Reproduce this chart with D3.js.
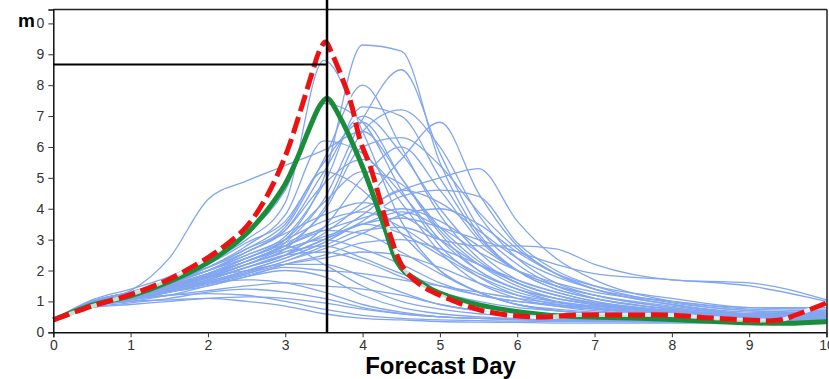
<!DOCTYPE html>
<html>
<head>
<meta charset="utf-8">
<script src="https://cdn.jsdelivr.net/npm/d3@7"></script>
<style>
  body { margin: 0; background: #fff; }
  svg { display: block; font-family: "Liberation Sans", Arial, sans-serif; }
</style>
</head>
<body>
<div id="chart"></div>
<script>
// forecast day grid used by the ensemble members
const days = [0, 0.5, 1, 1.5, 2, 2.5, 3, 3.5, 4, 4.5, 5, 5.5, 6, 6.5, 7, 8, 9, 10];

// ensemble members (one array per member, values at `days`)
const members = [
  [0.4, 0.85, 1.0, 1.05, 1.1, 1.0, 0.85, 0.6, 0.45, 0.4, 0.35, 0.33, 0.32, 0.3, 0.3, 0.3, 0.3, 0.35],
  [0.4, 0.9, 1.1, 1.2, 1.25, 1.2, 1.0, 0.75, 0.55, 0.45, 0.4, 0.38, 0.36, 0.35, 0.34, 0.33, 0.32, 0.4],
  [0.4, 0.8, 0.95, 1.1, 1.3, 1.4, 1.3, 1.1, 0.8, 0.6, 0.5, 0.45, 0.42, 0.4, 0.38, 0.36, 0.35, 0.45],
  [0.4, 0.95, 1.2, 1.4, 1.6, 1.7, 1.6, 1.3, 0.9, 0.65, 0.5, 0.45, 0.42, 0.4, 0.4, 0.38, 0.36, 0.5],
  [0.4, 0.9, 1.1, 1.3, 1.5, 1.8, 2.0, 1.8, 1.2, 0.8, 0.6, 0.5, 0.45, 0.42, 0.4, 0.38, 0.35, 0.45],
  [0.4, 0.85, 1.05, 1.2, 1.35, 1.5, 1.6, 1.5, 1.4, 1.2, 0.9, 0.7, 0.6, 0.55, 0.5, 0.45, 0.4, 0.55],
  [0.4, 1.0, 1.25, 1.5, 1.8, 2.0, 2.2, 2.2, 1.8, 1.3, 0.9, 0.7, 0.6, 0.55, 0.5, 0.45, 0.42, 0.6],
  [0.4, 0.8, 0.9, 1.0, 1.1, 1.15, 1.1, 0.95, 0.75, 0.6, 0.5, 0.45, 0.4, 0.38, 0.36, 0.34, 0.33, 0.4],
  [0.4, 0.9, 1.15, 1.4, 1.7, 2.1, 2.5, 2.6, 2.3, 1.8, 1.3, 1.0, 0.8, 0.7, 0.6, 0.5, 0.45, 0.6],
  [0.4, 0.95, 1.2, 1.5, 1.9, 2.4, 2.9, 3.3, 3.2, 2.6, 1.9, 1.3, 0.9, 0.75, 0.65, 0.55, 0.5, 0.65],
  [0.4, 0.9, 1.1, 1.35, 1.65, 2.0, 2.4, 2.9, 3.5, 3.2, 2.5, 1.8, 1.3, 1.0, 0.8, 0.6, 0.5, 0.6],
  [0.4, 1.0, 1.25, 1.6, 2.0, 2.5, 3.0, 3.6, 3.9, 3.4, 2.6, 1.9, 1.4, 1.1, 0.9, 0.65, 0.5, 0.55],
  [0.4, 0.85, 1.05, 1.3, 1.6, 1.9, 2.2, 2.4, 2.6, 2.5, 2.1, 1.6, 1.2, 1.0, 0.85, 0.65, 0.5, 0.55],
  [0.4, 0.95, 1.15, 1.45, 1.8, 2.2, 2.7, 3.0, 2.7, 2.2, 1.6, 1.2, 1.0, 0.85, 0.75, 0.6, 0.5, 0.7],
  [0.4, 1.0, 1.3, 1.7, 2.1, 2.6, 3.2, 3.8, 4.2, 3.8, 3.0, 2.2, 1.6, 1.2, 0.95, 0.7, 0.55, 0.6],
  [0.4, 0.9, 1.1, 1.3, 1.55, 1.85, 2.1, 2.0, 1.9, 1.7, 1.5, 1.3, 1.1, 0.95, 0.85, 0.7, 0.6, 0.7],
  [0.4, 0.95, 1.2, 1.5, 1.85, 2.3, 2.8, 3.3, 3.7, 4.0, 3.6, 2.8, 2.0, 1.5, 1.2, 0.8, 0.6, 0.6],
  [0.4, 0.85, 1.0, 1.2, 1.5, 1.8, 2.2, 2.5, 2.9, 3.0, 2.7, 2.2, 1.7, 1.3, 1.0, 0.7, 0.55, 0.5],
  [0.4, 1.0, 1.3, 1.65, 2.0, 2.4, 2.8, 2.2, 1.5, 1.0, 0.75, 0.6, 0.55, 0.5, 0.45, 0.4, 0.38, 0.45],
  [0.4, 0.9, 1.15, 1.45, 1.8, 2.2, 2.6, 2.8, 2.4, 1.9, 1.5, 1.2, 1.0, 0.9, 0.8, 0.65, 0.55, 0.6],
  [0.4, 1.0, 1.35, 2.4, 4.3, 4.9, 5.4, 5.9, 6.5, 5.0, 3.3, 2.2, 1.5, 1.1, 0.9, 0.6, 0.45, 0.4],
  [0.4, 1.0, 1.3, 1.7, 2.3, 3.0, 4.2, 8.8, 6.5, 3.6, 2.0, 1.3, 0.9, 0.7, 0.6, 0.45, 0.4, 0.45],
  [0.4, 0.95, 1.25, 1.6, 2.1, 2.8, 3.8, 6.2, 5.8, 4.2, 2.6, 1.6, 1.1, 0.85, 0.7, 0.55, 0.45, 0.5],
  [0.4, 1.0, 1.3, 1.7, 2.2, 2.9, 3.6, 5.5, 6.8, 5.0, 3.2, 2.0, 1.4, 1.0, 0.8, 0.6, 0.5, 0.5],
  [0.4, 0.9, 1.2, 1.55, 2.0, 2.6, 3.3, 4.8, 5.6, 4.5, 3.0, 2.0, 1.4, 1.1, 0.9, 0.65, 0.5, 0.55],
  [0.4, 1.05, 1.4, 1.8, 2.4, 3.2, 4.6, 7.4, 6.8, 4.6, 2.8, 1.8, 1.2, 0.9, 0.75, 0.55, 0.45, 0.5],
  [0.4, 0.95, 1.2, 1.5, 1.9, 2.4, 3.0, 4.2, 5.2, 4.8, 3.4, 2.3, 1.6, 1.2, 0.95, 0.7, 0.55, 0.6],
  [0.4, 1.0, 1.25, 1.6, 2.1, 2.7, 3.5, 5.2, 4.6, 3.2, 2.0, 1.3, 0.9, 0.7, 0.6, 0.5, 0.4, 0.45],
  [0.4, 0.95, 1.2, 1.5, 1.9, 2.4, 3.0, 5.0, 9.3, 9.1, 5.5, 3.2, 2.0, 1.4, 1.1, 0.75, 0.55, 0.6],
  [0.4, 0.9, 1.15, 1.45, 1.8, 2.3, 2.9, 4.3, 6.9, 8.5, 5.8, 3.4, 2.2, 1.5, 1.1, 0.75, 0.55, 0.55],
  [0.4, 1.0, 1.3, 1.65, 2.1, 2.7, 3.4, 5.6, 8.0, 6.0, 3.8, 2.4, 1.6, 1.2, 0.9, 0.65, 0.5, 0.5],
  [0.4, 0.95, 1.25, 1.6, 2.0, 2.5, 3.1, 4.8, 7.3, 7.0, 5.0, 3.1, 2.0, 1.4, 1.1, 0.75, 0.55, 0.6],
  [0.4, 0.9, 1.15, 1.4, 1.75, 2.2, 2.7, 4.0, 6.5, 7.2, 6.0, 3.8, 2.4, 1.6, 1.2, 0.8, 0.6, 0.6],
  [0.4, 1.0, 1.3, 1.6, 2.0, 2.6, 3.3, 5.2, 7.0, 5.8, 4.0, 2.6, 1.7, 1.3, 1.0, 0.7, 0.5, 0.5],
  [0.4, 0.95, 1.2, 1.5, 1.85, 2.3, 2.8, 3.9, 6.0, 6.3, 5.4, 3.9, 2.7, 1.9, 1.4, 0.9, 0.6, 0.55],
  [0.4, 0.9, 1.1, 1.35, 1.7, 2.1, 2.5, 3.4, 5.0, 6.0, 4.6, 3.0, 2.0, 1.5, 1.2, 0.85, 0.6, 0.6],
  [0.4, 0.9, 1.15, 1.45, 1.8, 2.2, 2.6, 3.2, 4.2, 5.6, 6.8, 4.5, 2.8, 1.9, 1.4, 0.9, 0.65, 0.6],
  [0.4, 0.95, 1.2, 1.5, 1.85, 2.3, 2.8, 3.4, 4.0, 4.6, 5.0, 5.3, 3.6, 2.4, 1.7, 1.0, 0.7, 0.65],
  [0.4, 0.9, 1.1, 1.35, 1.65, 2.0, 2.4, 2.9, 3.6, 4.4, 4.6, 4.4, 2.9, 2.0, 1.5, 0.95, 0.7, 0.6],
  [0.4, 0.85, 1.05, 1.3, 1.6, 1.95, 2.3, 2.8, 3.3, 3.4, 3.0, 2.8, 2.8, 2.7, 2.2, 1.7, 1.6, 1.05],
  [0.4, 0.95, 1.2, 1.45, 1.75, 2.1, 2.5, 3.0, 3.5, 3.7, 3.4, 3.0, 2.6, 2.2, 1.9, 1.7, 1.5, 1.0],
  [0.4, 0.9, 1.15, 1.4, 1.7, 2.1, 2.5, 3.0, 3.8, 4.6, 4.2, 3.3, 2.4, 1.8, 1.4, 1.0, 0.75, 0.7],
  [0.4, 0.85, 1.05, 1.3, 1.6, 1.9, 2.3, 2.7, 3.2, 3.8, 4.0, 3.5, 2.6, 1.9, 1.5, 1.1, 0.8, 0.75],
  [0.4, 1.0, 1.25, 1.55, 1.9, 2.3, 2.7, 3.1, 3.5, 3.9, 3.4, 2.6, 2.0, 1.6, 1.3, 1.0, 0.8, 0.8]
];

// green solid line
const greenDays = [0, 0.5, 1, 1.5, 2, 2.25, 2.5, 2.75, 3, 3.15, 3.32, 3.45, 3.54, 3.71, 4.0, 4.27, 4.44, 4.55, 4.7, 4.9, 5.13, 5.52, 6.38, 7.68, 8.97, 9.49, 10];
const greenVals = [0.4, 0.88, 1.18, 1.64, 2.26, 2.68, 3.2, 3.9, 4.8, 5.6, 6.65, 7.35, 7.58, 6.95, 5.35, 3.5, 2.3, 1.95, 1.7, 1.38, 1.15, 0.88, 0.56, 0.45, 0.31, 0.29, 0.34];

// red dashed line
const redDays = [0, 0.5, 1, 1.5, 2, 2.25, 2.5, 2.75, 3, 3.2, 3.36, 3.44, 3.52, 3.6, 3.84, 3.97, 4.1, 4.35, 4.48, 4.6, 4.8, 5.0, 5.52, 6.17, 6.81, 7.46, 7.98, 8.53, 9.4, 9.6, 10];
const redVals = [0.4, 0.85, 1.22, 1.72, 2.42, 2.86, 3.42, 4.35, 5.7, 7.2, 8.5, 9.1, 9.4, 9.05, 7.5, 6.2, 5.36, 3.2, 2.3, 1.85, 1.45, 1.2, 0.72, 0.5, 0.56, 0.56, 0.56, 0.46, 0.4, 0.56, 0.95];

// cross-hair marker
const markDay = 3.54;
const markValue = 8.67;

const xTicks = [0, 1, 2, 3, 4, 5, 6, 7, 8, 9, 10];
const yTicks = [0, 1, 2, 3, 4, 5, 6, 7, 8, 9, 10];

const width = 829, height = 379;

const x = d3.scaleLinear().domain([0, 10]).range([53.3, 826.5]);
const y = d3.scaleLinear().domain([0, 10.45]).range([332.3, 9.5]);

const svg = d3.select("#chart")
  .append("svg")
  .attr("width", width)
  .attr("height", height);

const line = d3.line()
  .x((d) => x(d[0]))
  .y((d) => y(d[1]))
  .curve(d3.curveMonotoneX);

// smoother curve for the two summary lines
const smooth = d3.line()
  .x((d) => x(d[0]))
  .y((d) => y(d[1]))
  .curve(d3.curveCatmullRom.alpha(0.5));

// ensemble
svg.append("g")
  .selectAll("path")
  .data(members)
  .join("path")
  .attr("fill", "none")
  .attr("stroke", "#82a6ef")
  .attr("stroke-width", 1.3)
  .attr("d", (m) => line(m.map((v, i) => [days[i], v])));

const greenPts = greenDays.map((d, i) => [d, greenVals[i]]);
const redPts = redDays.map((d, i) => [d, redVals[i]]);

svg.append("path")
  .attr("fill", "none")
  .attr("stroke", "#1b8d3a")
  .attr("stroke-width", 5)
  .attr("stroke-linejoin", "round")
  .attr("d", smooth(greenPts));

// white under the dashes so the gaps read light
svg.append("path")
  .attr("fill", "none")
  .attr("stroke", "#fff")
  .attr("stroke-opacity", 0.75)
  .attr("stroke-width", 4)
  .attr("d", smooth(redPts));

svg.append("path")
  .attr("fill", "none")
  .attr("stroke", "#ee1111")
  .attr("stroke-width", 5)
  .attr("stroke-dasharray", "17,6")
  .attr("d", smooth(redPts));

// frame top and right
svg.append("line")
  .attr("x1", x(0)).attr("x2", x(10) + 0.5)
  .attr("y1", y(10.45)).attr("y2", y(10.45))
  .attr("stroke", "#222").attr("stroke-width", 1.5);
svg.append("line")
  .attr("x1", x(10) + 0.5).attr("x2", x(10) + 0.5)
  .attr("y1", y(10.45)).attr("y2", y(0))
  .attr("stroke", "#222").attr("stroke-width", 1.5);

// axes
const xAxis = svg.append("g")
  .attr("transform", `translate(0, ${y(0)})`)
  .call(d3.axisBottom(x).tickValues(xTicks).tickSize(5).tickPadding(3).tickFormat(d3.format("d")));
const yAxis = svg.append("g")
  .attr("transform", `translate(${x(0)}, 0)`)
  .call(d3.axisLeft(y).tickValues(yTicks).tickSize(5).tickPadding(4).tickFormat(d3.format("d")));

[xAxis, yAxis].forEach((g) => {
  g.select(".domain").attr("stroke", "#111").attr("stroke-width", 1.5);
  g.selectAll(".tick line").attr("stroke", "#333");
  g.selectAll(".tick text")
    .attr("fill", "#333")
    .style("font-size", "14px")
    .style("font-family", "'Liberation Sans', Arial, sans-serif");
});

// marker lines
svg.append("line")
  .attr("x1", x(markDay)).attr("x2", x(markDay))
  .attr("y1", 0).attr("y2", y(0))
  .attr("stroke", "#000").attr("stroke-width", 2.5);
svg.append("line")
  .attr("x1", x(0)).attr("x2", x(markDay))
  .attr("y1", y(markValue)).attr("y2", y(markValue))
  .attr("stroke", "#000").attr("stroke-width", 2);

// unit label sits over the top tick label
svg.append("rect")
  .attr("x", 16).attr("y", 10).attr("width", 21).attr("height", 22)
  .attr("fill", "#fff");
svg.append("text")
  .attr("x", 18).attr("y", 27)
  .style("font-size", "19px")
  .style("font-weight", "bold")
  .text("m");

svg.append("text")
  .attr("x", 440.5).attr("y", 374)
  .attr("text-anchor", "middle")
  .style("font-size", "24px")
  .style("font-weight", "bold")
  .text("Forecast Day");
</script>
</body>
</html>
